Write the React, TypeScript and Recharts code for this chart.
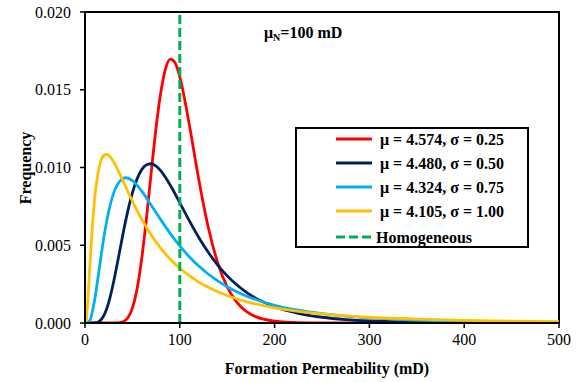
import React from 'react';
import {
  LineChart,
  Line,
  XAxis,
  YAxis,
  ReferenceLine,
  ReferenceArea,
  Legend,
  Customized,
} from 'recharts';

// ---- data ----
const redX = [0, 30, 40, 45, 50, 55, 60, 65, 70, 75, 80, 85, 90, 95, 100, 110, 120, 130, 140, 150, 160, 170, 180, 200, 225, 250, 300, 500];
const redY = [0, 0, 0.00008, 0.00032, 0.00096, 0.00222, 0.00422, 0.00684, 0.00977, 0.01257, 0.01485, 0.01636, 0.01697, 0.01674, 0.01583, 0.01276, 0.00923, 0.00616, 0.00387, 0.00232, 0.00134, 0.00075, 0.00041, 0.00012, 0.00002, 0.000005, 0, 0];

const navyX = [0, 5, 10, 15, 20, 25, 30, 35, 40, 45, 50, 55, 60, 65, 70, 75, 80, 90, 100, 110, 120, 130, 140, 150, 160, 170, 180, 200, 225, 250, 275, 300, 350, 400, 450, 500];
const navyY = [0, 0, 0.000006, 0.0001, 0.00049, 0.00133, 0.00259, 0.00412, 0.00571, 0.00716, 0.00837, 0.00928, 0.00988, 0.01018, 0.01024, 0.01009, 0.00978, 0.00886, 0.00773, 0.00658, 0.0055, 0.00455, 0.00372, 0.00303, 0.00246, 0.00199, 0.0016, 0.00105, 0.00062, 0.00037, 0.00022, 0.00013, 0.00005, 0.00002, 0.00001, 0];

const lightX = [0, 2, 5, 10, 15, 20, 25, 30, 35, 40, 43, 50, 60, 70, 80, 90, 100, 110, 120, 130, 140, 150, 160, 170, 180, 200, 225, 250, 275, 300, 350, 400, 450, 500];
const lightY = [0, 0, 0.00015, 0.00141, 0.00348, 0.00554, 0.00719, 0.00832, 0.00899, 0.00929, 0.00934, 0.00915, 0.00846, 0.00756, 0.00663, 0.00575, 0.00496, 0.00426, 0.00366, 0.00315, 0.00271, 0.00233, 0.00201, 0.00174, 0.00151, 0.00114, 0.00082, 0.0006, 0.00044, 0.00033, 0.00019, 0.00011, 0.00007, 0.00004];

const orangeX = [0, 1, 2, 3, 5, 7.5, 10, 15, 20, 22.5, 25, 30, 35, 40, 50, 60, 70, 80, 90, 100, 110, 120, 130, 140, 150, 160, 170, 180, 200, 225, 250, 275, 300, 350, 400, 450, 500];
const orangeY = [0, 0.00009, 0.00059, 0.00145, 0.00354, 0.00598, 0.00786, 0.01003, 0.01078, 0.01085, 0.01078, 0.01038, 0.0098, 0.00915, 0.00783, 0.00665, 0.00564, 0.0048, 0.0041, 0.00352, 0.00304, 0.00263, 0.0023, 0.00201, 0.00177, 0.00156, 0.00138, 0.00123, 0.00098, 0.00075, 0.00059, 0.00046, 0.00037, 0.00025, 0.00017, 0.00012, 0.00009];

const homogeneousX = 100;

const seriesNames = [
  'μ = 4.574, σ = 0.25',
  'μ = 4.480, σ = 0.50',
  'μ = 4.324, σ = 0.75',
  'μ = 4.105, σ = 1.00',
];
const homogeneousName = 'Homogeneous';
const seriesColors = ['#FF0000', '#002060', '#00B0F0', '#FFC000'];
const homogeneousColor = '#00B050';

const xTicks = [0, 100, 200, 300, 400, 500];
const yTicks = [0, 0.005, 0.01, 0.015, 0.02];

const xLabel = 'Formation Permeability (mD)';
const yLabel = 'Frequency';

const toPoints = (xs: number[], ys: number[]) => xs.map((x, i) => ({ x, y: ys[i] }));
const seriesData = [
  toPoints(redX, redY),
  toPoints(navyX, navyY),
  toPoints(lightX, lightY),
  toPoints(orangeX, orangeY),
];

const FONT = '"Liberation Serif", "Times New Roman", Times, serif';

const LegendBox = () => (
  <div
    style={{
      width: 234,
      height: 121,
      border: '2px solid #000',
      boxSizing: 'border-box',
      background: '#fff',
    }}
  >
    <svg width={230} height={117} style={{ display: 'block' }}>
      {seriesNames.map((name, i) => {
        const cy = 10 + i * 24;
        return (
          <g key={name}>
            <line x1={39} x2={75} y1={cy} y2={cy} stroke={seriesColors[i]} strokeWidth={3} />
            <text
              x={83}
              y={cy + 5.5}
              fontFamily={FONT}
              fontWeight="bold"
              fontSize={16}
              fill="#000"
            >
              {name}
            </text>
          </g>
        );
      })}
      <line
        x1={39}
        x2={75}
        y1={108}
        y2={108}
        stroke={homogeneousColor}
        strokeWidth={3}
        strokeDasharray="9 4"
      />
      <text x={79} y={113.5} fontFamily={FONT} fontWeight="bold" fontSize={16} fill="#000">
        {homogeneousName}
      </text>
    </svg>
  </div>
);

const Title = () => (
  <text x={264} y={38} fontFamily={FONT} fontWeight="bold" fontSize={16} fill="#000">
    μ
    <tspan fontSize={10} dy={3}>N</tspan>
    <tspan dy={-3}>=100 mD</tspan>
  </text>
);

export default function App() {
  return (
    <div style={{ position: 'absolute', left: 0, top: 0, width: 579, height: 382, background: '#fff' }}>
      <LineChart
        width={579}
        height={382}
        margin={{ top: 12, right: 20, bottom: 0, left: 0 }}
        style={{ background: '#fff' }}
      >
        <XAxis
          dataKey="x"
          type="number"
          domain={[0, 500]}
          ticks={xTicks}
          allowDataOverflow
          height={59}
          tickSize={5}
          tickMargin={6}
          axisLine={{ stroke: '#000', strokeWidth: 2 }}
          tickLine={{ stroke: '#000', strokeWidth: 1.5 }}
          tick={{ fill: '#000', fontSize: 16, fontFamily: FONT }}
          label={{
            content: () => (
              <text
                x={327}
                y={374}
                textAnchor="middle"
                fontFamily={FONT}
                fontWeight="bold"
                fontSize={16}
                fill="#000"
              >
                {xLabel}
              </text>
            ),
          }}
        />
        <YAxis
          type="number"
          domain={[0, 0.02]}
          ticks={yTicks}
          allowDataOverflow
          width={85}
          tickSize={5}
          tickMargin={9}
          tickFormatter={(v: number) => v.toFixed(3)}
          axisLine={{ stroke: '#000', strokeWidth: 2 }}
          tickLine={{ stroke: '#000', strokeWidth: 1.5 }}
          tick={{ fill: '#000', fontSize: 16, fontFamily: FONT }}
          label={{
            content: () => (
              <text
                x={0}
                y={0}
                transform="translate(31,168) rotate(-90)"
                textAnchor="middle"
                fontFamily={FONT}
                fontWeight="bold"
                fontSize={16}
                fill="#000"
              >
                {yLabel}
              </text>
            ),
          }}
        />
        {seriesData.map((d, i) => (
          <Line
            key={seriesNames[i]}
            data={d}
            dataKey="y"
            type="monotone"
            stroke={seriesColors[i]}
            strokeWidth={2.8}
            dot={false}
            activeDot={false}
            isAnimationActive={false}
            name={seriesNames[i]}
          />
        ))}
        <ReferenceLine
          x={homogeneousX}
          stroke={homogeneousColor}
          strokeWidth={3}
          strokeDasharray="9 4"
        />
        <ReferenceArea
          x1={0}
          x2={500}
          y1={0}
          y2={0.02}
          fill="none"
          fillOpacity={0}
          stroke="#000"
          strokeWidth={2}
          ifOverflow="visible"
        />
        <Customized component={Title} />
        <Legend
          layout="vertical"
          align="center"
          verticalAlign="middle"
          wrapperStyle={{ left: 295, top: 127, width: 234, height: 121 }}
          content={() => <LegendBox />}
        />
      </LineChart>
    </div>
  );
}
